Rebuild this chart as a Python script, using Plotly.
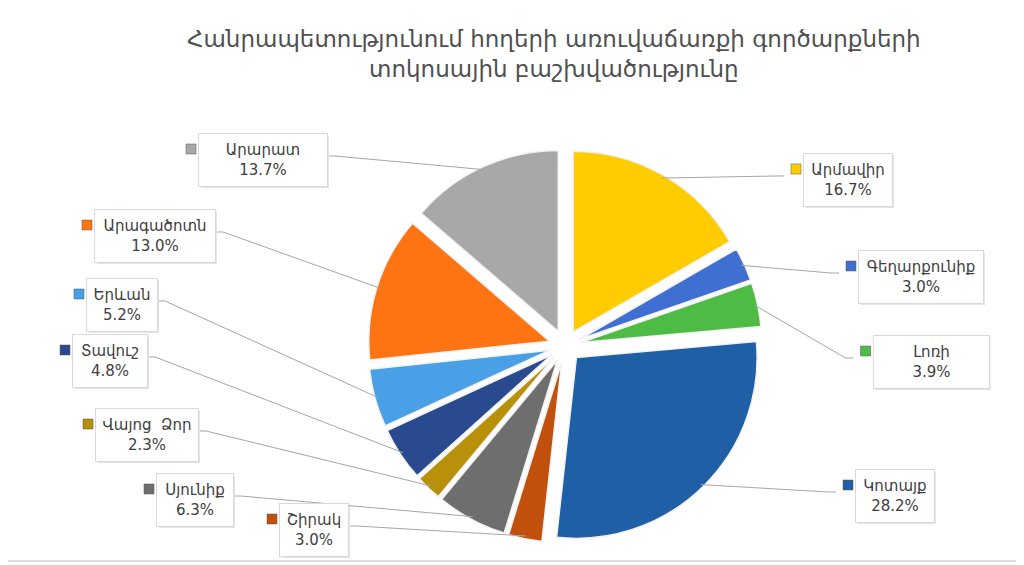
import numpy as np
import plotly.graph_objects as go

# share of land sale transactions by region, clockwise from 12 o'clock
regions = ["Արմավիր", "Գեղարքունիք", "Լոռի", "Կոտայք", "Շիրակ", "Սյունիք",
           "Վայոց  Ձոր", "Տավուշ", "Երևան", "Արագածոտն", "Արարատ"]
shares = [16.7, 3.0, 3.9, 28.2, 3.0, 6.3, 2.3, 4.8, 5.2, 13.0, 13.7]
colors = ["#FFCC00", "#3F6FD0", "#4DBB44", "#1F5FA6", "#C0500C", "#6E6E6E",
          "#B8900A", "#2A4A8F", "#4AA0E6", "#FF7412", "#A8A8A8"]

title = "Հանրապետությունում հողերի առուվաճառքի գործարքների<br>տոկոսային բաշխվածությունը"

# label box centres / widths in pixels (layout only)
box_x = [848, 921, 931, 895, 314, 195, 147, 110, 122, 155, 263]
box_y = [180, 277, 362, 496, 530, 500, 435, 361, 305, 236, 160]
box_w = [88, 124, 115, 78, 68, 76, 102, 74, 70, 120, 128]
box_h = 52

W, H = 1024, 565
OFF = 8      # page body margin, the figure is drawn 8px in from the corner
cx, cy = 565, 346
R = 197      # outer radius incl. pull, px
pull = 0.09

def px(x):
    return (x - OFF) / W

def py(y):
    return 1 - (y - OFF) / H

fig = go.Figure()
fig.add_trace(
    go.Pie(
        labels=regions,
        values=shares,
        sort=False,
        direction="clockwise",
        rotation=0,
        pull=pull,
        textinfo="none",
        hoverinfo="label+percent",
        marker=dict(colors=colors, line=dict(color="#f2f2f2", width=1.5)),
        domain=dict(x=[px(cx - R), px(cx + R)], y=[py(cy + R), py(cy - R)]),
        showlegend=False,
    )
)

# slice mid angles (clockwise from top) for leader lines
vals = np.array(shares)
cum = np.cumsum(vals) / vals.sum()
mid = (cum - vals / vals.sum() / 2) * 2 * np.pi

shapes = []
annotations = []
for i, name in enumerate(regions):
    bx, by, bw = box_x[i], box_y[i], box_w[i]
    tx = cx + (R - 3) * np.sin(mid[i])
    ty = cy - (R - 3) * np.cos(mid[i])
    if bx > cx:
        sx = bx - bw / 2 - 20
        ex = sx - 8
    else:
        sx = bx + bw / 2
        ex = sx + 8
    sy = by - 4
    shapes.append(dict(type="path", xref="paper", yref="paper",
                       path="M %f %f L %f %f L %f %f" % (px(sx), py(sy), px(ex), py(sy), px(tx), py(ty)),
                       line=dict(color="#a6a6a6", width=1)))
    # box shadow
    shapes.append(dict(type="rect", xref="paper", yref="paper",
                       x0=px(bx - bw / 2 + 2), x1=px(bx + bw / 2 + 2),
                       y0=py(by + box_h / 2 + 2), y1=py(by - box_h / 2 + 2),
                       fillcolor="#e4e4e4", line=dict(width=0)))
    # legend key square
    mx, my = bx - bw / 2 - 8, by - 11
    shapes.append(dict(type="rect", xref="paper", yref="paper",
                       x0=px(mx - 5), x1=px(mx + 5), y0=py(my + 5), y1=py(my - 5),
                       fillcolor=colors[i], line=dict(color="#555555", width=0.5)))
    annotations.append(dict(
        x=px(bx), y=py(by), xref="paper", yref="paper",
        text="%s<br>%.1f%%" % (name, shares[i]),
        showarrow=False, xanchor="center", yanchor="middle",
        width=bw - 8, height=box_h - 8, borderpad=4,
        bgcolor="white", bordercolor="#d9d9d9", borderwidth=1,
        font=dict(family="DejaVu Sans", size=15, color="#404040"),
    ))

annotations.append(dict(
    x=px(554), y=py(24), xref="paper", yref="paper", text=title,
    showarrow=False, xanchor="center", yanchor="top",
    font=dict(family="DejaVu Sans", size=23, color="#505050"),
))

# frame lines of the original chart area
shapes.append(dict(type="line", xref="paper", yref="paper", x0=px(1021), x1=px(1021),
                   y0=py(0), y1=py(561), line=dict(color="#d0d0d0", width=1.5)))
shapes.append(dict(type="line", xref="paper", yref="paper", x0=px(0), x1=px(1021),
                   y0=py(561), y1=py(561), line=dict(color="#d0d0d0", width=1.5)))

fig.update_layout(
    width=W, height=H,
    margin=dict(l=0, r=0, t=0, b=0),
    paper_bgcolor="white",
    plot_bgcolor="white",
    shapes=shapes,
    annotations=annotations,
)

fig.write_html("out.html")
